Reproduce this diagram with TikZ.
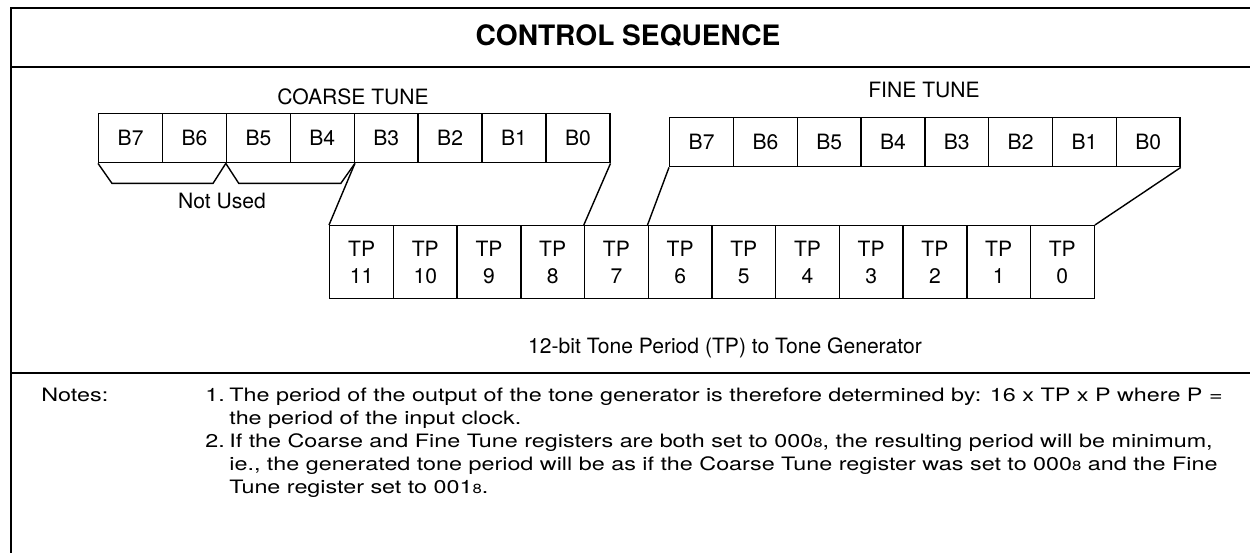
\documentclass[tikz,border=0pt]{standalone}
\usepackage{fontspec}
\setmainfont{TeX Gyre Heros}
\newfontfamily\notesfont[FakeStretch=1.265]{TeX Gyre Heros}
\newcommand{\octal}{{\fontsize{7.5}{8}\selectfont 8}}

\begin{document}
\begin{tikzpicture}[x=0.2mm,y=-0.2mm,
    bit/.style={draw,line width=0.8pt,anchor=north west,inner sep=0pt,
      minimum width=12.76mm,minimum height=9.8mm,font=\fontsize{12}{14}\selectfont},
    tpbit/.style={bit,minimum height=14.6mm,align=center,font=\fontsize{12}{15.3}\selectfont},
    rule/.style={line width=1pt},
    link/.style={line width=0.8pt},
    lbl/.style={font=\fontsize{12}{14}\selectfont},
    note/.style={anchor=base west,inner sep=0pt,font=\notesfont\fontsize{10.5}{12.8}\selectfont}]
    \useasboundingbox (0,0) rectangle (1250,553);

    % frame and rules
    \draw[rule] (1250,8) -- (11,8) -- (11,553);
    \draw[rule] (11,67) -- (1250,67);
    \draw[rule] (11,373) -- (1250,373);
    \node[font=\bfseries\fontsize{16}{18}\selectfont] (title) at (628,36) {CONTROL SEQUENCE};

    % coarse and fine tune registers
    \node[lbl] (coarse) at (353,97) {COARSE TUNE};
    \node[lbl] (fine) at (924,90) {FINE TUNE};
    \foreach \b in {7,...,0}{
        \node[bit] (c\b) at ({98+63.9*(7-\b)},113) {B\b};
        \node[bit] (f\b) at ({669+63.8*(7-\b)},117) {B\b};
    }

    % unused upper bits
    \draw[link] (c7.south west) -- ++(14,20) -- ++(101,0) -- (c5.south west);
    \draw[link] (c5.south west) -- ++(13,20) -- ++(102,0) -- (c4.south east);
    \node[lbl] (unused) at (222,201) {Not Used};

    % 12-bit tone period
    \foreach \t in {11,...,0}
        \node[tpbit] (tp\t) at ({329+63.7*(11-\t)},225) {TP\\\t};
    \draw[link] (c4.south east) -- (tp11.north west);
    \draw[link] (c0.south east) -- (tp7.north west);
    \draw[link] (f7.south west) -- (tp6.north west);
    \draw[link] (f0.south east) -- (tp0.north east);
    \node[lbl] (caption) at (725,348) {12-bit Tone Period (TP) to Tone Generator};

    % notes, one node per line
    \node[note] (notes) at (41,401) {Notes:};
    \node[note] (num1) at (205,401) {1.};
    \node[note] (n1a) at (229,401) {The period of the output of the tone generator is therefore determined by: 16 x TP x P where P =};
    \node[note] (n1b) at (229,424) {the period of the input clock.};
    \node[note] (num2) at (205,447) {2.};
    \node[note] (n2a) at (229,447) {If the Coarse and Fine Tune registers are both set to 000\octal, the resulting period will be minimum,};
    \node[note] (n2b) at (229,470) {ie., the generated tone period will be as if the Coarse Tune register was set to 000\octal{} and the Fine};
    \node[note] (n2c) at (229,493) {Tune register set to 001\octal.};
\end{tikzpicture}
\end{document}
